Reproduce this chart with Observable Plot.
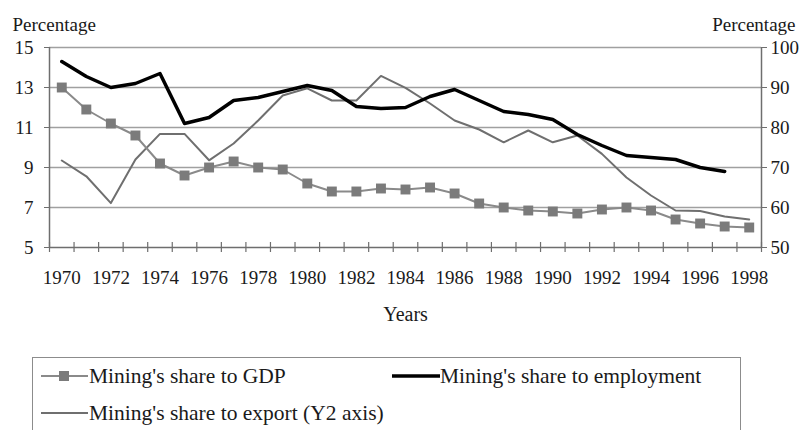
<!DOCTYPE html>
<html>
<head>
<meta charset="utf-8">
<script src="https://cdn.jsdelivr.net/npm/d3@7"></script>
<script src="https://cdn.jsdelivr.net/npm/@observablehq/plot@0.6"></script>
<style>
  html, body { margin: 0; padding: 0; background: #fff; width: 809px; height: 430px; overflow: hidden; }
  #wrap { position: relative; width: 809px; height: 430px; color: #1a1a1a; }
  #legend { position: absolute; left: 32px; top: 357px; width: 709px; height: 90px; border: 1px solid #8c8c8c; box-sizing: border-box; }
  .item { position: absolute; font-size: 21.5px; line-height: 24px; white-space: nowrap; }
  .sw { position: absolute; }
</style>
</head>
<body>
<div id="wrap">
  <div id="chart"></div>
  <div id="legend"></div>
</div>
<script>
// ---- data ----
const years = [1970,1971,1972,1973,1974,1975,1976,1977,1978,1979,1980,1981,1982,1983,1984,1985,1986,1987,1988,1989,1990,1991,1992,1993,1994,1995,1996,1997,1998];
const gdpShare = [13.0,11.9,11.2,10.6,9.2,8.6,9.0,9.3,9.0,8.9,8.2,7.8,7.8,7.95,7.9,8.0,7.7,7.2,7.0,6.85,6.8,6.7,6.9,7.0,6.85,6.4,6.2,6.05,6.0];
const employmentShare = [14.3,13.55,13.0,13.2,13.7,11.2,11.5,12.35,12.5,12.8,13.1,12.85,12.05,11.95,12.0,12.55,12.9,12.35,11.8,11.65,11.4,10.65,10.1,9.6,9.5,9.4,9.0,8.8,null];
const exportShare = [71.75,67.8,61.1,72.0,78.4,78.4,71.8,76.0,81.75,88.0,89.8,86.75,86.75,92.9,89.9,86.0,81.75,79.5,76.3,79.25,76.3,78.0,73.4,67.5,63.0,59.25,59.1,57.75,57.0];
const leftTicks = [5,7,9,11,13,15];
const rightTicks = [50,60,70,80,90,100];
const yearLabels = [1970,1972,1974,1976,1978,1980,1982,1984,1986,1988,1990,1992,1994,1996,1998];
const seriesNames = ["Mining's share to GDP","Mining's share to employment","Mining's share to export (Y2 axis)"];

// ---- pick an installed serif font if there is one ----
function hasFont(name) {
  const c = document.createElement("canvas").getContext("2d");
  const s = "mmmmmmmmmwwwwwlli1970ABCDgy";
  for (const base of ["monospace", "sans-serif"]) {
    c.font = "72px " + base;
    const w0 = c.measureText(s).width;
    c.font = `72px "${name}", ${base}`;
    if (c.measureText(s).width !== w0) return true;
  }
  return false;
}
const serifCandidates = ["Liberation Serif", "Tinos", "Times New Roman", "Times", "Nimbus Roman", "DejaVu Serif", "Noto Serif", "FreeSerif"];
const FONT_NAME = serifCandidates.find(hasFont);
const FONT = (FONT_NAME ? `"${FONT_NAME}", ` : "") + "serif";
document.getElementById("wrap").style.fontFamily = FONT;

// map the Y2 (export) axis onto the left scale: 50..100 -> 5..15
const y2ToY = v => leftTicks[0] + (v - rightTicks[0]) * (leftTicks[leftTicks.length-1]-leftTicks[0]) / (rightTicks[rightTicks.length-1]-rightTicks[0]);

const gdpData = years.map((y,i) => ({year: y, value: gdpShare[i]}));
const empData = years.map((y,i) => ({year: y, value: employmentShare[i]})).filter(d => d.value != null);
const expData = years.map((y,i) => ({year: y, value: y2ToY(exportShare[i])}));
const bounds = years.map(y => y - 0.5).concat([years[years.length-1] + 0.5]);

const GRID = "#a0a0a0", AXIS = "#6e6e6e";

const chart = Plot.plot({
  width: 809, height: 340,
  marginLeft: 49, marginRight: 48, marginTop: 47, marginBottom: 93,
  style: {fontFamily: FONT, fontSize: "19px", color: "#1a1a1a", background: "#fff", overflow: "visible"},
  x: {type: "linear", domain: [bounds[0], bounds[bounds.length-1]], label: null},
  y: {domain: [leftTicks[0], leftTicks[leftTicks.length-1]], label: null},
  marks: [
    Plot.ruleY(leftTicks.slice(1), {stroke: GRID, strokeWidth: 1.5}),
    Plot.ruleX([bounds[0], bounds[bounds.length-1]], {stroke: AXIS, strokeWidth: 1.5}),
    Plot.ruleY([leftTicks[0]], {stroke: AXIS, strokeWidth: 1.5}),
    Plot.ruleX(bounds, {x: d => d, y1: leftTicks[0], y2: leftTicks[0], insetTop: -5, insetBottom: -5, stroke: AXIS, strokeWidth: 1.2}),
    Plot.axisX({ticks: yearLabels, tickFormat: d => String(d), tickSize: 0, tickPadding: 23, fontSize: 19, label: null}),
    Plot.axisY({anchor: "left", ticks: leftTicks, tickFormat: d => String(d), tickSize: 5, tickPadding: 11, stroke: AXIS, fontSize: 19, label: null}),
    Plot.axisY({anchor: "right", ticks: leftTicks, tickFormat: d => String(rightTicks[leftTicks.indexOf(d)]), tickSize: 5, tickPadding: 4, stroke: AXIS, fontSize: 19, label: null}),
    Plot.line(expData, {x: "year", y: "value", stroke: "#6f6f6f", strokeWidth: 2}),
    Plot.line(gdpData, {x: "year", y: "value", stroke: "#8a8a8a", strokeWidth: 2}),
    Plot.dot(gdpData, {x: "year", y: "value", symbol: "square", r: 5.6, fill: "#7b7b7b", stroke: "none"}),
    Plot.line(empData, {x: "year", y: "value", stroke: "#000", strokeWidth: 3.5}),
    Plot.text(["Percentage"], {text: d => d, frameAnchor: "top-left", textAnchor: "start", dx: -37, dy: -30, fontSize: 19}),
    Plot.text(["Percentage"], {text: d => d, frameAnchor: "top-right", textAnchor: "end", dx: 34, dy: -30, fontSize: 19}),
    Plot.text(["Years"], {text: d => d, frameAnchor: "bottom", dy: 73, fontSize: 20})
  ]
});
document.getElementById("chart").appendChild(chart);

// ---- legend ----
const legend = document.getElementById("legend");
const items = [
  {name: seriesNames[0], swLeft: 8, txtLeft: 56, top: 6, kind: "gdp"},
  {name: seriesNames[1], swLeft: 359, txtLeft: 407, top: 6, kind: "emp"},
  {name: seriesNames[2], swLeft: 8, txtLeft: 56, top: 43, kind: "exp"}
];
for (const it of items) {
  const sw = document.createElementNS("http://www.w3.org/2000/svg", "svg");
  sw.setAttribute("class", "sw");
  sw.setAttribute("width", 48); sw.setAttribute("height", 24);
  sw.style.left = it.swLeft + "px"; sw.style.top = it.top + "px";
  if (it.kind === "gdp") {
    sw.innerHTML = '<line x1="0" y1="12" x2="47" y2="12" stroke="#8a8a8a" stroke-width="2"/><rect x="18" y="7" width="10" height="10" fill="#7b7b7b"/>';
  } else if (it.kind === "emp") {
    sw.innerHTML = '<line x1="0" y1="12" x2="48" y2="12" stroke="#000" stroke-width="3.5"/>';
  } else {
    sw.innerHTML = '<line x1="0" y1="12" x2="47" y2="12" stroke="#6f6f6f" stroke-width="2"/>';
  }
  legend.appendChild(sw);
  const t = document.createElement("div");
  t.className = "item";
  t.textContent = it.name;
  t.style.left = it.txtLeft + "px"; t.style.top = it.top + "px";
  legend.appendChild(t);
}
</script>
</body>
</html>
